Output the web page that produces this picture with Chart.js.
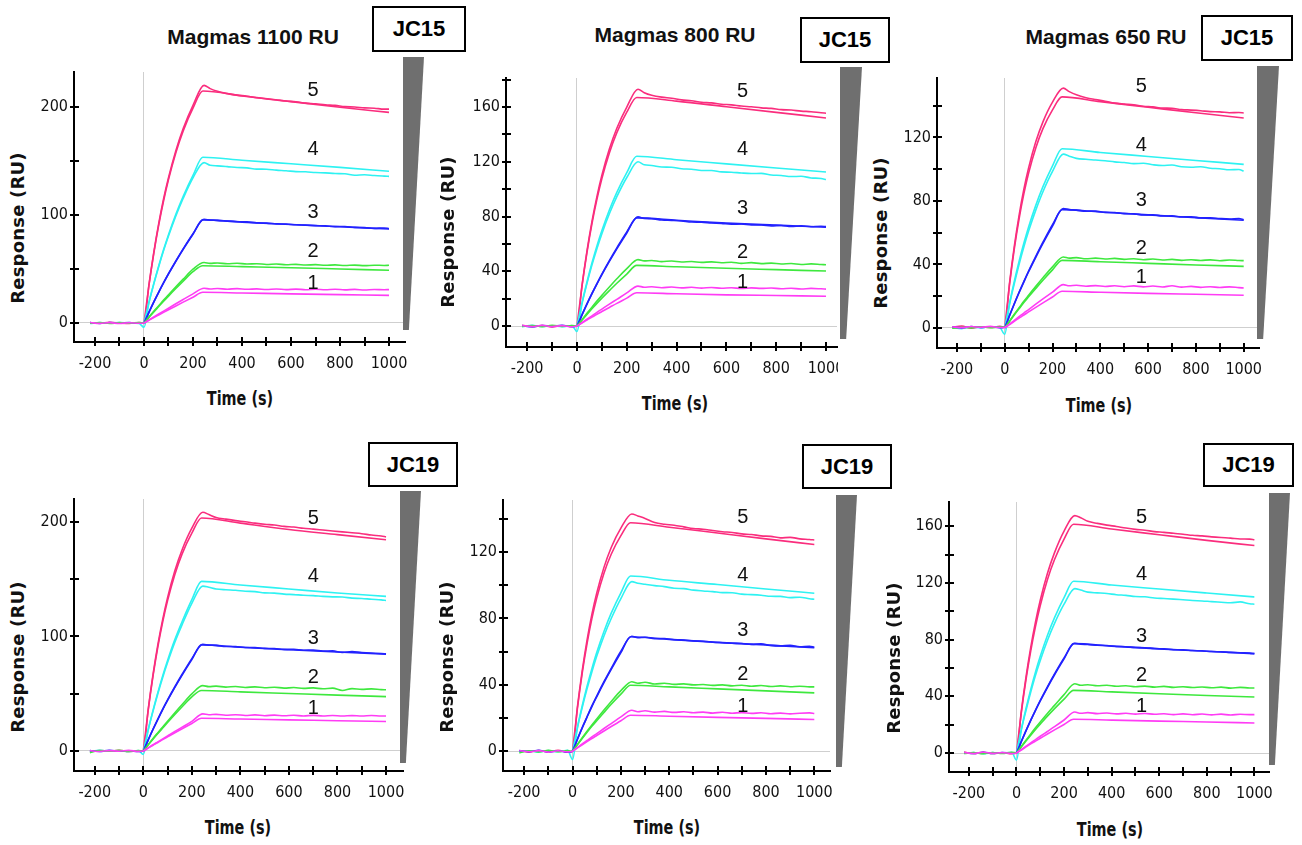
<!DOCTYPE html>
<html>
<head>
<meta charset="utf-8">
<title>Magmas sensorgrams JC15 / JC19</title>
<script src="https://cdn.jsdelivr.net/npm/chart.js@4.4.1/dist/chart.umd.min.js"></script>
<style>
  html, body { margin: 0; padding: 0; background: #fff; }
  body { width: 1302px; height: 845px; position: relative; overflow: hidden; font-family: "Liberation Sans", Arial, sans-serif; }
  canvas { position: absolute; }
  .title { position: absolute; font-weight: bold; font-size: 21px; white-space: nowrap; transform: translate(-50%, -50%); color: #111; }
  .tag { position: absolute; box-sizing: border-box; border: 2px solid #000; background: #fff; display: flex; align-items: center; justify-content: center; font-weight: bold; font-size: 22px; color: #000; }
  .wedge { position: absolute; background: #6f6f6f; }
  .ylab { position: absolute; font-family: "DejaVu Sans", sans-serif; font-weight: bold; font-size: 18px; letter-spacing: 0.2px; white-space: nowrap; transform: translate(-50%, -50%) rotate(-90deg); color: #111; }
  .xlab { position: absolute; font-family: "DejaVu Sans", sans-serif; font-weight: bold; font-size: 20px; white-space: nowrap; transform: translate(-50%, -50%) scaleX(0.72); color: #111; }
</style>
</head>
<body>
<script>
// time points (s) of the fitted curves and of the measured curves
const FIT_T = [0, 20, 40, 60, 80, 100, 130, 160, 200, 240, 400, 600, 800, 1000];
const DATA_T = [-220, -180, -140, -100, -60, -20, 0, 20, 40, 60, 80, 100, 130, 160, 200,
  245, 270, 300, 340, 380, 420, 460, 500, 540, 580, 620, 660, 700, 740, 780, 820, 860, 900, 940, 980, 1000];

const curveLabels = ["1", "2", "3", "4", "5"];
const xTicks = [-200, -100, 0, 100, 200, 300, 400, 500, 600, 700, 800, 900, 1000];
const yTicks1100 = [0, 50, 100, 150, 200];
const yTicks800 = [0, 20, 40, 60, 80, 100, 120, 140, 160, 180];
const yTicks650 = [0, 20, 40, 60, 80, 100, 120, 140];
const yTicksJC19_800 = [0, 20, 40, 60, 80, 100, 120, 140];
const yTicksJC19_650 = [0, 20, 40, 60, 80, 100, 120, 140, 160];

// JC15, Magmas 1100 RU
const jc15m1100Fit = [
  [0, 2.5, 5, 7.4, 9.8, 12.2, 15.8, 19.3, 23.9, 28.4, 27.8, 27, 26.3, 25.6],
  [0, 5.2, 10.3, 15.2, 20.1, 24.9, 31.9, 38.7, 47.5, 53, 52.2, 51.2, 50, 48.8],
  [0, 9.8, 19.3, 28.4, 37.1, 45.4, 57.1, 68.3, 82.2, 95.5, 93.4, 91.2, 89.1, 87],
  [0, 19.1, 36.7, 52.9, 68, 81.8, 100.6, 117.2, 136.6, 153.5, 150.7, 147.4, 144.1, 140.5],
  [0, 34.5, 64.5, 90.6, 113.2, 132.9, 157.7, 177.9, 198.9, 214.8, 210.3, 205, 199.8, 195]
];
const jc15m1100Obs = [
  [0.4, -0.4, 0.3, -0.5, 0.2, -0.2, 0, 2.8, 5.6, 8.3, 11, 13.7, 17.8, 21.8, 27,
    32.2, 31.5, 31.9, 31.3, 31.8, 31.2, 31.6, 31, 31.5, 30.9, 31.4, 30.8, 31.3, 30.8, 31.2, 30.7, 31.1, 30.6, 31, 30.8, 30.9],
  [-0.3, 0.4, -0.5, 0.3, -0.2, 0.5, 0, 5.5, 10.9, 16, 21.2, 26.2, 33.5, 40.6, 49.8,
    56, 55.2, 55.6, 54.8, 55.3, 54.6, 54.9, 54.2, 54.6, 53.9, 54.3, 53.7, 54, 53.4, 53.8, 53.2, 53.6, 53.1, 53.5, 53.3, 53.4],
  [0.3, -0.4, 0.5, -0.2, 0.4, -0.3, 0, 9.9, 19.5, 28.6, 37.3, 45.6, 57.4, 68.6, 82.6,
    96, 95.2, 95, 94.3, 93.8, 93.6, 92.7, 92.5, 91.8, 91.6, 90.9, 90.6, 90.2, 89.9, 89.2, 89.4, 88.5, 88.3, 87.6, 88, 87.5],
  [-0.5, 0.3, -0.2, 0.5, 0, -0.4, -4, 18.5, 36, 52, 67, 80.5, 99, 115.5, 134.5,
    148.5, 146, 145.5, 144.8, 144, 143.6, 142.5, 142.4, 141.5, 141, 140.2, 140, 139.3, 139, 138.4, 138.2, 136.8, 137.3, 136.5, 136, 135.8],
  [0.5, -0.3, 0.6, 0, -0.5, 0.4, 0, 35, 65.5, 92, 115, 134.5, 159.5, 180, 201.5,
    220, 217, 214.5, 212.5, 211, 210, 208.5, 207.5, 206.5, 205.5, 204.8, 203.6, 203, 202, 201.5, 200.3, 200, 199.2, 198.9, 198, 198]
];
const jc15m1100LabelY = [37, 66, 102, 161, 215];

// JC15, Magmas 800 RU
const jc15m800Fit = [
  [0, 2.2, 4.4, 6.5, 8.6, 10.6, 13.6, 16.6, 20.4, 24.3, 23.6, 22.8, 22.3, 21.8],
  [0, 4.3, 8.5, 12.6, 16.6, 20.4, 25.9, 31.3, 38, 44.3, 43.3, 42.2, 41.2, 40.2],
  [0, 8.1, 16, 23.5, 30.6, 37.5, 47.2, 56.4, 68, 79, 77.3, 75.2, 73.7, 72.3],
  [0, 16.9, 32.2, 46, 58.5, 69.8, 84.8, 97.7, 112.1, 124, 121.5, 118.5, 115.5, 112.5],
  [0, 28.9, 53.6, 74.6, 92.5, 107.8, 126.5, 141.3, 156.2, 167, 164.3, 160.2, 156.1, 152]
];
const jc15m800Obs = [
  [0.4, -0.3, 0.5, -0.4, 0.3, -0.5, 0, 2.5, 5, 7.5, 10, 12.4, 16, 19.5, 24.2,
    29.2, 28.4, 28.7, 28, 28.5, 27.9, 28.3, 27.7, 28.2, 27.6, 28, 27.4, 27.9, 27.5, 27.8, 27.2, 27.6, 27.1, 27.5, 27.2, 27],
  [-0.3, 0.4, -0.4, 0.5, -0.2, 0.3, 0, 4.7, 9.3, 13.8, 18.2, 22.4, 28.5, 34.5, 42,
    48.5, 47.6, 47.9, 47.1, 47.5, 46.8, 47.2, 46.5, 46.9, 46.2, 46.6, 45.8, 46.3, 45.6, 46, 45.3, 45.7, 45, 45.4, 45, 44.8],
  [0.3, -0.5, 0.4, -0.2, 0.5, -0.4, 0, 8.2, 16.2, 23.8, 31, 38, 47.8, 57.1, 68.8,
    79.8, 78.6, 78.4, 77.5, 77.2, 76.8, 76, 75.9, 75.3, 75, 74.4, 74.5, 73.8, 73.9, 73.2, 73.5, 72.7, 73.2, 72.5, 72.9, 72.6],
  [-0.4, 0.5, -0.3, 0.2, -0.5, 0.3, -4, 16, 31, 44.5, 56.5, 67.5, 82, 94.5, 108.5,
    120, 117.8, 117.3, 116.2, 116, 114.9, 114.6, 113.6, 113.6, 112.6, 112.4, 111.8, 111.4, 111.5, 110.4, 110, 109.2, 109.4, 108.2, 107.8, 107],
  [0.6, -0.4, 0.3, -0.6, 0.2, -0.3, 0, 29.5, 54.8, 76.3, 94.6, 110.2, 129.3, 144.5, 160,
    173, 170.5, 168.6, 167.2, 166.4, 165.2, 164.6, 163.5, 163, 162, 161.6, 160.7, 160.2, 159.4, 159, 158.1, 157.8, 157, 156.6, 155.8, 155.5]
];
const jc15m800LabelY = [32, 54, 86, 129, 171];

// JC15, Magmas 650 RU
const jc15m650Fit = [
  [0, 2.1, 4.2, 6.2, 8.2, 10.1, 13, 15.8, 19.5, 23.1, 22.5, 21.8, 21.2, 20.6],
  [0, 4.1, 8.2, 12.1, 16, 19.6, 24.9, 30.1, 36.6, 42.6, 41.7, 40.7, 39.7, 38.8],
  [0, 7.7, 15.1, 22.2, 28.9, 35.4, 44.5, 53.2, 64.1, 74.5, 73, 71.2, 69.5, 67.8],
  [0, 15.4, 29.3, 41.9, 53.3, 63.6, 77.2, 89, 102.1, 112.9, 110.5, 108, 105.5, 103],
  [0, 27.1, 49.7, 68.6, 84.4, 97.6, 113.4, 125.5, 137.3, 145.5, 142.5, 139, 135.5, 132.2]
];
const jc15m650Obs = [
  [0.8, 0.2, 0.9, 0.4, 1, 0.3, 0.5, 2.4, 4.8, 7.1, 9.4, 11.6, 15, 18.3, 22.6,
    27.3, 26.6, 26.9, 26.3, 26.7, 26.1, 26.6, 26, 26.5, 25.9, 26.4, 25.8, 26.6, 25.7, 26.2, 25.6, 26, 25.5, 25.9, 25.4, 25.2],
  [-0.2, 0.5, 0.1, 0.8, 0.2, 0.6, 0.5, 4.3, 8.6, 12.7, 16.8, 20.6, 26.2, 31.6, 38.5,
    44.7, 44, 44.3, 43.6, 44, 43.4, 43.8, 43.2, 43.6, 43, 43.4, 42.8, 43.2, 42.6, 43, 42.5, 42.9, 42.3, 42.8, 42.5, 42.4],
  [0.6, 0.1, 0.9, 0.3, 0.7, 0.2, 0.5, 7.8, 15.3, 22.5, 29.3, 35.9, 45.1, 54, 65.1,
    75.2, 74.5, 74.2, 73.5, 73.6, 72.8, 72.7, 72, 71.9, 71.2, 71.3, 70.5, 70.6, 69.9, 70, 69.3, 69.4, 68.9, 68.6, 68.9, 68.2],
  [0.3, -0.4, 0.6, 0.1, 0.8, 0.2, -4, 14.5, 27.8, 40, 51, 61, 74.2, 85.8, 98.6,
    109.5, 108.2, 106.8, 106.2, 105.8, 105.3, 104.6, 104.2, 103.5, 103.7, 102.8, 102.3, 102.6, 101.5, 101.2, 101.5, 100.6, 100.3, 99.6, 99.8, 98.8],
  [0.5, 1.2, -0.2, 0.8, 0.3, 1, 0.5, 28, 51.3, 70.8, 87.2, 100.8, 117.2, 129.8, 142.2,
    151, 148.8, 146.8, 145, 143.8, 142.8, 141.6, 141, 140.5, 139.6, 139.2, 138.5, 138.3, 137.5, 137.2, 136.8, 136.2, 136.1, 135.5, 135.7, 135.4]
];
const jc15m650LabelY = [32, 50, 80, 115, 152];

// JC19, Magmas 1100 RU
const jc19m1100Fit = [
  [0, 2.5, 5, 7.4, 9.9, 12.3, 15.9, 19.4, 24, 28.6, 27.9, 27.2, 26.4, 25.7],
  [0, 5.2, 10.3, 15.2, 20, 24.8, 31.8, 38.6, 47.3, 52.8, 51.6, 50.2, 48.8, 47.5],
  [0, 9.5, 18.8, 27.6, 36.1, 44.1, 55.5, 66.3, 79.8, 92.7, 90.6, 88.4, 86.4, 84.5],
  [0, 18.5, 35.5, 51.2, 65.8, 79.1, 97.3, 113.1, 132.2, 148.1, 145, 141.5, 138, 135],
  [0, 35.3, 65.3, 90.9, 112.7, 131.3, 154.2, 172.2, 190.3, 203.5, 199, 193.5, 189, 184.5]
];
const jc19m1100Obs = [
  [0.4, -0.5, 0.3, -0.2, 0.5, -0.4, 0, 2.7, 5.4, 8, 10.6, 13.2, 17.1, 20.8, 25.8,
    32.4, 31.6, 32, 31.2, 31.7, 31, 31.5, 30.8, 31.3, 30.7, 31.2, 30.6, 31.1, 30.6, 31, 30.5, 30.9, 30.5, 31, 30.6, 30.6],
  [-1.5, 0.4, -0.3, 0.5, -0.4, 0.3, 0, 5.5, 10.9, 16, 21, 26, 33.4, 40.6, 49.8,
    57.1, 56.2, 56.6, 55.8, 56.3, 55.5, 56, 55.2, 55.7, 54.9, 55.4, 54.7, 55.1, 54.3, 54.9, 52.8, 54.5, 53.8, 54.2, 53.6, 53.5],
  [0.3, -0.4, 0.5, -0.3, 0.2, -0.5, 0, 9.6, 19, 27.9, 36.5, 44.6, 56.1, 67, 80.7,
    93.2, 92.4, 92.2, 91.2, 91.3, 90.4, 90.3, 89.6, 89.5, 88.7, 88.8, 88, 88.1, 87.3, 87.4, 86.1, 86.8, 86, 85.5, 85.2, 84.8],
  [-0.4, 0.5, -0.3, 0.2, -0.5, 0.4, -3, 18, 34.6, 50, 64.2, 77.2, 95, 110.4, 129,
    144, 143, 141.5, 140.8, 140.4, 139.5, 139.2, 138.1, 137.9, 137, 136.6, 136, 135.7, 135, 134.6, 134.5, 133.5, 133.2, 132.5, 132, 131.5],
  [-0.6, 0.4, -0.3, 0.5, -0.4, 0.2, 0, 36, 66.6, 92.8, 115, 134, 157.4, 175.8, 194.6,
    208.5, 206.5, 204, 202.5, 201.2, 200.2, 199, 198, 197.4, 196.2, 195.6, 194.5, 193.8, 193, 192.2, 191.4, 190.6, 189.8, 188.6, 187.8, 187]
];
const jc19m1100LabelY = [37, 64, 98, 152, 203];

// JC19, Magmas 800 RU
const jc19m800Fit = [
  [0, 2, 3.9, 5.8, 7.7, 9.5, 12.2, 14.9, 18.4, 21.7, 21.1, 20.4, 19.8, 19.1],
  [0, 3.9, 7.7, 11.4, 15, 18.4, 23.4, 28.3, 34.4, 39.8, 38.8, 37.6, 36.4, 35.2],
  [0, 7.1, 14, 20.5, 26.9, 32.8, 41.3, 49.3, 59.4, 69, 67.4, 65.6, 64, 62.4],
  [0, 14.4, 27.4, 39.2, 49.8, 59.5, 72.2, 83.2, 95.5, 105.6, 103, 100.5, 97.8, 95.2],
  [0, 25.6, 47, 64.9, 79.9, 92.3, 107.3, 118.7, 129.9, 137.7, 135, 131.5, 128, 124.6]
];
const jc19m800Obs = [
  [0.5, -0.3, 0.4, -0.5, 0.3, -0.4, 0, 2.2, 4.4, 6.5, 8.6, 10.6, 13.7, 16.7, 20.7,
    24.7, 23.8, 24.4, 23.6, 24, 23.4, 23.8, 23.2, 23.6, 23, 23.5, 22.9, 23.3, 22.8, 23.2, 22.6, 23, 22.5, 22.9, 23.1, 22.7],
  [-1, 0.3, -0.4, 0.5, -0.3, 0.4, 0, 4.1, 8.1, 12, 15.8, 19.4, 24.8, 30, 36.5,
    41.9, 41, 41.6, 40.5, 41, 40.3, 40.6, 40, 40.2, 39.7, 40, 39.4, 39.8, 39.2, 39.6, 39, 39.4, 38.9, 39.2, 38.8, 38.8],
  [0.4, -0.3, 0.5, -0.4, 0.2, -0.6, 0, 7.2, 14.2, 20.8, 27.3, 33.3, 41.9, 50, 60.3,
    69.3, 68.4, 68.7, 67.8, 67.9, 67.2, 67, 66.4, 66.3, 65.7, 65.4, 65.1, 64.9, 64.4, 64.7, 63.8, 63.5, 63.8, 63, 63.3, 62.8],
  [-0.4, 0.3, -0.5, 0.4, -0.2, 0.5, -5, 13.8, 26.3, 37.6, 47.8, 57.2, 69.5, 80, 92,
    102.2, 101.2, 100.6, 99.8, 99.2, 98.2, 98, 97.1, 96.6, 96.2, 95.6, 95.5, 94.7, 94.4, 94, 93.4, 93.3, 92.6, 92.8, 91.9, 91.6],
  [0.3, -0.5, 0.4, -0.3, 0.5, -0.6, 0, 26.4, 48.5, 67, 82.5, 95.3, 110.8, 122.8, 134.5,
    143, 141.8, 140.3, 137.8, 136.8, 136.2, 135.2, 134.2, 133.8, 133, 132.3, 131.8, 131, 130.6, 129.8, 129.5, 128.6, 128.9, 128, 127.6, 127.3]
];
const jc19m800LabelY = [27, 46, 73, 106, 141];

// JC19, Magmas 650 RU
const jc19m650Fit = [
  [0, 2.1, 4.3, 6.4, 8.4, 10.4, 13.4, 16.3, 20.1, 23.8, 23.2, 22.5, 21.9, 21.2],
  [0, 4.3, 8.5, 12.6, 16.6, 20.4, 26, 31.3, 38, 44.2, 43.1, 41.8, 40.6, 39.5],
  [0, 7.9, 15.6, 23, 30, 36.7, 46.2, 55.2, 66.4, 77.2, 75.4, 73.5, 71.8, 70.1],
  [0, 16.5, 31.4, 44.9, 57.2, 68.2, 82.9, 95.5, 109.6, 121.2, 118.5, 115.7, 112.9, 110.1],
  [0, 28, 51.8, 72.1, 89.4, 104.1, 122.3, 136.5, 150.9, 161.4, 158, 154, 150, 146.4]
];
const jc19m650Obs = [
  [0.4, -0.3, 0.5, -0.2, 0.3, -0.4, 0, 2.4, 4.8, 7.2, 9.5, 11.8, 15.2, 18.6, 23.3,
    28.9, 28, 28.5, 27.8, 28.2, 27.6, 28, 27.4, 27.9, 27.3, 27.7, 27.1, 27.6, 27, 27.5, 26.9, 27.4, 26.8, 27.3, 27.1, 27.1],
  [-0.4, 0.3, -0.5, 0.4, -0.3, 0.5, 0, 4.6, 9.1, 13.5, 17.8, 21.9, 27.9, 33.6, 41.2,
    48.9, 47.8, 48.2, 47.5, 47.8, 47.1, 47.5, 46.8, 47.2, 46.5, 47, 46.3, 46.8, 46.2, 46.6, 46, 46.5, 45.8, 46.3, 45.9, 45.9],
  [0.3, -0.4, 0.5, -0.3, 0.4, -0.2, 0, 8, 15.8, 23.2, 30.3, 37.1, 46.7, 55.8, 67.1,
    77.4, 76.8, 76.6, 76, 75.8, 75.2, 75, 74.4, 74.3, 73.7, 73.5, 72.9, 72.8, 72.3, 72.1, 71.6, 71.4, 71, 70.7, 70.5, 70.1],
  [-0.3, 0.4, -0.5, 0.3, -0.2, 0.5, -5, 15.8, 30, 43, 54.8, 65.3, 79.4, 91.5, 105,
    116, 115, 113.5, 113, 112.5, 111.7, 111.2, 110.4, 110.2, 109.4, 109, 108.6, 108.1, 107.6, 107.3, 106.8, 106.4, 106, 106.6, 105.3, 105],
  [0.6, -0.3, 0.5, -0.4, 0.2, -0.5, 0, 29, 53.6, 74.6, 92.5, 107.8, 126.6, 141.4, 156.6,
    167.5, 166, 163.5, 162, 160.8, 159.8, 158.7, 157.8, 157.2, 156.2, 155.7, 155, 154.4, 153.6, 153.2, 152.5, 152, 151.6, 151, 150.9, 150.5]
];
const jc19m650LabelY = [33, 55, 82, 126, 166];

const curveColors = ["#ff3cf5", "#3ee83e", "#2222ff", "#2ef2f2", "#fa2d7d"];

// page layout of the six panels (pixels) and axis ranges
const panels = [
  { fit: jc15m1100Fit, obs: jc15m1100Obs, yTicks: yTicks1100, yStep: 100, labelX: 690, labelY: jc15m1100LabelY,
    axisX: 74, top: 72, bottom: 342, right: 405, padR: 20, xr: [-285.7, 1065.3], yr: [-17.6, 232.4],
    title: "Magmas 1100 RU", titleAt: [253, 37], tag: "JC15", tagBox: [372, 6, 94, 46],
    wedge: [403, 57, 21, 273], yLabAt: [17, 228], xLabAt: [240, 398] },
  { fit: jc15m800Fit, obs: jc15m800Obs, yTicks: yTicks800, yStep: 40, labelX: 665, labelY: jc15m800LabelY,
    axisX: 506, top: 78, bottom: 347, right: 837, padR: 1, xr: [-285.1, 1044.2], yr: [-15.3, 181.2],
    title: "Magmas 800 RU", titleAt: [675, 35], tag: "JC15", tagBox: [800, 17, 90, 46],
    wedge: [840, 67, 22, 272], yLabAt: [447, 232], xLabAt: [675, 403] },
  { fit: jc15m650Fit, obs: jc15m650Obs, yTicks: yTicks650, yStep: 40, labelX: 572, labelY: jc15m650LabelY,
    axisX: 937, top: 78, bottom: 348, right: 1259, padR: 20, xr: [-283.3, 1064], yr: [-12.6, 157.4],
    title: "Magmas 650 RU", titleAt: [1106, 37], tag: "JC15", tagBox: [1201, 15, 92, 46],
    wedge: [1257, 66, 22, 273], yLabAt: [880, 233], xLabAt: [1099, 405] },
  { fit: jc19m1100Fit, obs: jc19m1100Obs, yTicks: yTicks1100, yStep: 100, labelX: 700, labelY: jc19m1100LabelY,
    axisX: 74, top: 499, bottom: 771, right: 403, padR: 20, xr: [-285.5, 1070], yr: [-17.5, 220.1],
    title: "", titleAt: null, tag: "JC19", tagBox: [368, 442, 90, 45],
    wedge: [400, 491, 21, 272], yLabAt: [17, 657], xLabAt: [238, 827] },
  { fit: jc19m800Fit, obs: jc19m800Obs, yTicks: yTicksJC19_800, yStep: 40, labelX: 704, labelY: jc19m800LabelY,
    axisX: 503, top: 500, bottom: 771, right: 830, padR: 20, xr: [-287.6, 1064.9], yr: [-11.9, 151.4],
    title: "", titleAt: null, tag: "JC19", tagBox: [802, 444, 90, 45],
    wedge: [836, 495, 21, 272], yLabAt: [446, 657], xLabAt: [667, 827] },
  { fit: jc19m650Fit, obs: jc19m650Obs, yTicks: yTicksJC19_650, yStep: 40, labelX: 526, labelY: jc19m650LabelY,
    axisX: 949, top: 502, bottom: 772, right: 1269, padR: 20, xr: [-283.6, 1061.4], yr: [-13.4, 177.1],
    title: "", titleAt: null, tag: "JC19", tagBox: [1203, 443, 91, 44],
    wedge: [1269, 493, 21, 272], yLabAt: [893, 658], xLabAt: [1110, 829] }
];

const TICK_FONT = { family: "'Liberation Sans Narrow', 'DejaVu Sans Condensed', 'Liberation Sans', sans-serif", size: 16 };

// tick marks that cross the axis lines
const crossTicks = {
  id: "crossTicks",
  afterDraw(chart) {
    const { ctx, chartArea } = chart;
    const xs = chart.scales.x, ys = chart.scales.y;
    ctx.save();
    ctx.strokeStyle = "#000";
    ctx.lineWidth = 2;
    xs.ticks.forEach(t => {
      const px = Math.round(xs.getPixelForValue(t.value));
      ctx.beginPath();
      ctx.moveTo(px, chartArea.bottom - 5);
      ctx.lineTo(px, chartArea.bottom + 4);
      ctx.stroke();
    });
    ys.ticks.forEach(t => {
      const py = Math.round(ys.getPixelForValue(t.value));
      ctx.beginPath();
      ctx.moveTo(chartArea.left - 4, py);
      ctx.lineTo(chartArea.left + 5, py);
      ctx.stroke();
    });
    ctx.restore();
  }
};

// concentration numbers written above each pair of curves
const curveNumbers = {
  id: "curveNumbers",
  afterDatasetsDraw(chart, args, opts) {
    const { ctx } = chart;
    const xs = chart.scales.x, ys = chart.scales.y;
    ctx.save();
    ctx.fillStyle = "#111";
    ctx.font = "20px 'Liberation Sans', Arial, sans-serif";
    ctx.textAlign = "center";
    ctx.textBaseline = "middle";
    opts.labelY.forEach((v, i) => {
      ctx.fillText(curveLabels[i], xs.getPixelForValue(opts.labelX), ys.getPixelForValue(v));
    });
    ctx.restore();
  }
};

function addDiv(cls, text, css) {
  const d = document.createElement("div");
  d.className = cls;
  if (text) d.textContent = text;
  d.style.cssText = css;
  document.body.appendChild(d);
  return d;
}

const W_Y = 44, H_X = 32, PAD_T = 10;

panels.forEach(p => {
  const cv = document.createElement("canvas");
  const w = Math.round(p.right - p.axisX + W_Y + p.padR);
  const h = Math.round(p.bottom - p.top + PAD_T + H_X);
  cv.width = w;
  cv.height = h;
  cv.style.left = (p.axisX - W_Y) + "px";
  cv.style.top = (p.top - PAD_T) + "px";
  cv.style.width = w + "px";
  cv.style.height = h + "px";
  document.body.appendChild(cv);

  const datasets = [];
  for (let i = 0; i < 5; i++) {
    datasets.push({
      data: DATA_T.map((t, j) => ({ x: t, y: p.obs[i][j] })),
      borderColor: curveColors[i], borderWidth: 1.6, pointRadius: 0,
      showLine: true, cubicInterpolationMode: "monotone"
    });
    datasets.push({
      data: FIT_T.map((t, j) => ({ x: t, y: p.fit[i][j] })),
      borderColor: curveColors[i], borderWidth: 1.6, pointRadius: 0,
      showLine: true, cubicInterpolationMode: "monotone"
    });
  }

  new Chart(cv, {
    type: "scatter",
    data: { datasets },
    plugins: [crossTicks, curveNumbers],
    options: {
      responsive: false,
      animation: false,
      events: [],
      layout: { padding: { left: 0, top: PAD_T, right: p.padR, bottom: 0 } },
      plugins: {
        legend: { display: false },
        tooltip: { enabled: false },
        curveNumbers: { labelX: p.labelX, labelY: p.labelY }
      },
      scales: {
        x: {
          type: "linear", min: p.xr[0], max: p.xr[1],
          border: { color: "#000", width: 2 },
          grid: { drawTicks: false, lineWidth: 1, color: c => (c.tick && c.tick.value === 0 ? "#cfcfcf" : "rgba(0,0,0,0)") },
          ticks: { padding: 12, color: "#111", font: TICK_FONT, autoSkip: false, maxRotation: 0,
            callback: v => (v % 200 === 0 ? String(v) : "") },
          afterBuildTicks: s => { s.ticks = xTicks.map(v => ({ value: v })); },
          afterFit: s => { s.height = H_X; s.paddingLeft = 0; s.paddingRight = 0; }
        },
        y: {
          type: "linear", min: p.yr[0], max: p.yr[1],
          border: { color: "#000", width: 2 },
          grid: { drawTicks: false, lineWidth: 1, color: c => (c.tick && c.tick.value === 0 ? "#cfcfcf" : "rgba(0,0,0,0)") },
          ticks: { padding: 6, color: "#111", font: TICK_FONT, autoSkip: false,
            callback: v => (v % p.yStep === 0 ? String(v) : "") },
          afterBuildTicks: s => { s.ticks = p.yTicks.map(v => ({ value: v })); },
          afterFit: s => { s.width = W_Y; s.paddingTop = 0; s.paddingBottom = 0; }
        }
      }
    }
  });

  if (p.title) addDiv("title", p.title, `left:${p.titleAt[0]}px;top:${p.titleAt[1]}px`);
  const b = p.tagBox;
  addDiv("tag", p.tag, `left:${b[0]}px;top:${b[1]}px;width:${b[2]}px;height:${b[3]}px`);
  const wd = p.wedge;
  addDiv("wedge", "", `left:${wd[0]}px;top:${wd[1]}px;width:${wd[2]}px;height:${wd[3]}px;clip-path:polygon(0 0,100% 0,28% 100%,0 100%)`);
  addDiv("ylab", "Response (RU)", `left:${p.yLabAt[0]}px;top:${p.yLabAt[1]}px`);
  addDiv("xlab", "Time (s)", `left:${p.xLabAt[0]}px;top:${p.xLabAt[1]}px`);
});
</script>
</body>
</html>
